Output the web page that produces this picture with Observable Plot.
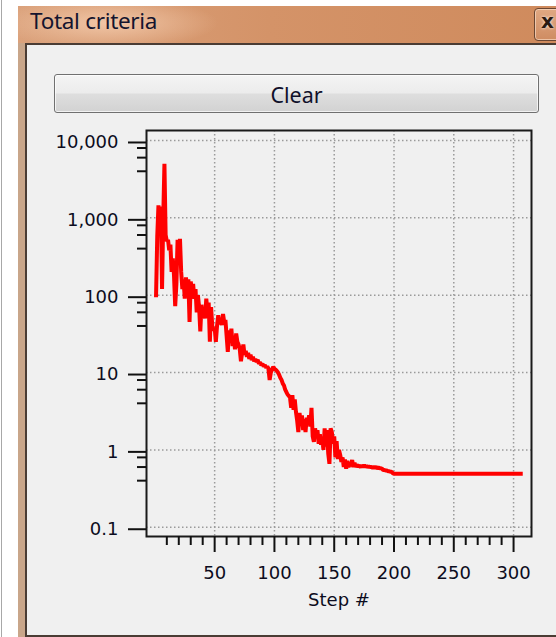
<!DOCTYPE html>
<html>
<head>
<meta charset="utf-8">
<script src="https://cdn.jsdelivr.net/npm/d3@7"></script>
<script src="https://cdn.jsdelivr.net/npm/@observablehq/plot@0.6"></script>
<style>
  html, body { margin: 0; padding: 0; background: #ffffff; }
  body { width: 556px; height: 637px; position: relative; overflow: hidden; }
  #outer-line { position: absolute; left: 1px; top: 0; width: 1px; height: 637px; background: #a8a8a8; }
  #win { position: absolute; left: 18px; top: 6px; width: 560px; height: 640px; background: #c9a68a; }
  #titlebar { position: absolute; left: 18px; top: 6px; width: 560px; height: 37px;
    background:
      radial-gradient(ellipse 110px 26px at 90px 17px, rgba(245,205,175,0.85), rgba(245,205,175,0) 100%),
      linear-gradient(to right, #dba27c, #d49368 45%, #cf8a5c); }
  #title { position: absolute; left: 30px; top: 5px; font-family: "Noto Sans", sans-serif; font-size: 22.5px; color: #14142e; white-space: nowrap; letter-spacing: -0.3px; }
  #closebtn { position: absolute; left: 534px; top: 8px; width: 40px; height: 31px; border: 1px solid #6a4632; border-radius: 4px;
    background: linear-gradient(#e0a882, #cf8c62); box-shadow: inset 0 0 0 1px rgba(255,230,210,0.6); }
  #closex { position: absolute; left: 541px; top: 9px; font-family: "DejaVu Sans", sans-serif; font-weight: bold; font-size: 20px; color: #2a1a12; text-shadow: 0 0 3px #fff; }
  #panel { position: absolute; left: 25px; top: 43px; width: 560px; height: 590px; background: #f0f0f0;
    border-left: 2px solid #4a3c34; border-top: 2px solid #4a3c34; border-bottom: 2px solid #4a3c34; }
  #clear { position: absolute; left: 54px; top: 74px; width: 483px; height: 37px; border: 1px solid #707070; border-radius: 3px;
    background: linear-gradient(#f4f4f4 0%, #ececec 48%, #dedede 52%, #d2d2d2 100%);
    box-shadow: inset 0 0 0 1px rgba(255,255,255,0.7);
    font-family: "Noto Sans", sans-serif; font-size: 21.5px; color: #10102a; text-align: center; line-height: 39px; }
  #chart { position: absolute; left: 0; top: 0; }
</style>
</head>
<body>
<div id="outer-line"></div>
<div id="win"></div>
<div id="titlebar"></div>
<div id="title">Total criteria</div>
<div id="closebtn"></div>
<div id="closex">x</div>
<div id="panel"></div>
<div id="clear">Clear</div>
<div id="chart"></div>
<script>
// Total criteria per step (steps 1..200)
const criteria = [
  100, 580, 1450, 700, 1400, 120, 1000, 5000, 600, 500,
  520, 380, 450, 200, 300, 180, 72, 140, 520, 300,
  535, 200, 120, 160, 90, 170, 120, 160, 45, 150,
  110, 140, 90, 120, 60, 100, 70, 34, 75, 55,
  65, 50, 90, 60, 80, 25, 70, 40, 35, 38,
  25, 40, 55, 42, 50, 41, 57, 45, 48, 30,
  18.5, 35, 26, 37, 22, 30, 20, 32, 25, 23,
  20, 14, 18, 23, 17, 19, 16, 18, 15, 17,
  14.5, 16, 14, 15, 13.7, 14.6, 13, 13.5, 12.5, 13,
  12, 12.5, 11.5, 12, 11.2, 8, 10, 11, 11.8, 11.2,
  10.9, 10.5, 10, 9.3, 8.5, 8, 7.2, 6.8, 6, 5.6,
  5.2, 5, 4.8, 3.5, 5.1, 3.3, 4.5, 3.1, 2.4, 1.7,
  3, 2.2, 2.8, 1.8, 2.5, 1.7, 2.6, 2.2, 2.8, 2,
  3.5, 1.5, 1.27, 1.9, 1.5, 1.8, 1.2, 1.6, 1.16, 1.4,
  1.0, 1.9, 1.1, 1.8, 0.9, 0.66, 1.9, 1.7, 1.2, 1.5,
  0.8, 1.3, 0.76, 1.0, 0.86, 0.7, 0.8, 0.6, 0.75, 0.57,
  0.72, 0.6, 0.65, 0.62, 0.74, 0.6, 0.68, 0.6, 0.64, 0.62,
  0.62, 0.6, 0.63, 0.6, 0.64, 0.6, 0.62, 0.6, 0.61, 0.6,
  0.6, 0.59, 0.6, 0.59, 0.6, 0.58, 0.59, 0.58, 0.58, 0.57,
  0.55, 0.55, 0.54, 0.54, 0.53, 0.53, 0.52, 0.52, 0.5, 0.49
];
const lastStep = 306;
const lastValue = 0.49;

const xMajorTicks = [50, 100, 150, 200, 250, 300];
const xMinorTicks = [10, 20, 30, 40, 60, 70, 80, 90, 110, 120, 130, 140, 160, 170, 180, 190, 210, 220, 230, 240, 260, 270, 280, 290];
const yMajorTicks = [0.1, 1, 10, 100, 1000, 10000];
const yTickLabels = ["0.1", "1", "10", "100", "1,000", "10,000"];
const yMinorTicks = [0.4, 0.6, 0.8, 4, 6, 8, 40, 60, 80, 400, 600, 800, 4000, 6000, 8000];
const xLabel = "Step #";

const series = criteria.map((v, i) => ({step: i + 1, value: v}));
series.push({step: lastStep, value: lastValue});

const gridStyle = {stroke: "#9a9a9a", strokeWidth: 1.5, strokeDasharray: "1.5,2.5", strokeOpacity: 1};

const chart = Plot.plot({
  width: 556,
  height: 637,
  marginLeft: 146,
  marginRight: 25,
  marginTop: 130,
  marginBottom: 101,
  style: {background: "transparent", fontFamily: "DejaVu Sans, sans-serif", fontSize: "18px", color: "#000", overflow: "visible"},
  x: {domain: [-7, 315], axis: null},
  y: {type: "log", domain: [0.0759, 13460], axis: null},
  marks: [
    Plot.gridX(xMajorTicks, gridStyle),
    Plot.gridY(yMajorTicks, gridStyle),
    Plot.line(series, {x: "step", y: "value", stroke: "#ff0000", strokeWidth: 4, strokeLinejoin: "miter", strokeLinecap: "square", curve: "linear"}),
    Plot.frame({stroke: "#1a1a1a", strokeWidth: 2}),
    Plot.axisY(yMajorTicks, {anchor: "left", tickSize: 18, tickPadding: 10, strokeWidth: 2, stroke: "#111",
      tickFormat: d => yTickLabels[yMajorTicks.indexOf(d)], dy: 2, fill: "#0c0c20", fontSize: 18, label: null}),
    Plot.axisY(yMinorTicks, {anchor: "left", tickSize: 9, strokeWidth: 2, stroke: "#111", text: null, label: null}),
    Plot.axisX(xMajorTicks, {anchor: "bottom", tickSize: 16, tickPadding: 14, strokeWidth: 2, stroke: "#111",
      fill: "#0c0c20", fontSize: 18, label: null}),
    Plot.axisX(xMinorTicks, {anchor: "bottom", tickSize: 9, strokeWidth: 2, stroke: "#111", text: null, label: null}),
    Plot.text([xLabel], {frameAnchor: "bottom", dy: 69, fontSize: 18, fill: "#0c0c20"})
  ]
});
document.getElementById("chart").appendChild(chart);
</script>
</body>
</html>
